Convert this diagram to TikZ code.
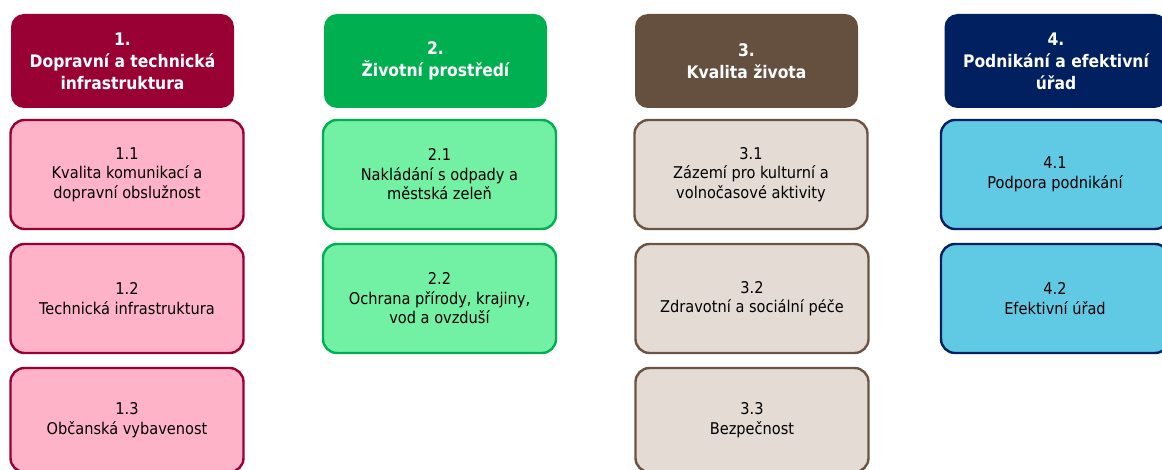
\documentclass[tikz,border=0pt]{standalone}
\usepackage{fontspec}
\setmainfont{DejaVu Sans Condensed}

\definecolor{wine}{HTML}{990033}
\definecolor{winelight}{HTML}{FFB3C9}
\definecolor{leaf}{HTML}{00B050}
\definecolor{leaflight}{HTML}{72F0A4}
\definecolor{bark}{HTML}{654F3F}
\definecolor{barkline}{HTML}{6B5444}
\definecolor{barklight}{HTML}{E3DBD4}
\definecolor{navy}{HTML}{002060}
\definecolor{navylight}{HTML}{60C9E3}

\tikzset{
    head/.style={shape=rectangle,rounded corners=13pt,minimum width=223pt,minimum height=94pt,
        text=white,align=center,font=\fontsize{17.3}{22}\selectfont\bfseries},
    sub/.style={shape=rectangle,rounded corners=14pt,line width=2.4pt,minimum width=233pt,
        minimum height=109pt,text=black,align=center,font=\fontsize{16.2}{19.5}\selectfont},
    lastsub/.style={sub,minimum height=104pt}
}

\begin{document}
\begin{tikzpicture}[x=1pt,y=-1pt]
                \useasboundingbox (0,0) rectangle (1162,470);

                \node[head,fill=wine] (1) at (122.5,61) {1.\\Dopravní a technická\\infrastruktura};
                \node[head,fill=leaf] (2) at (435.5,61) {2.\\Životní prostředí};
                \node[head,fill=bark] (3) at (746.5,61) {3.\\Kvalita života};
                \node[head,fill=navy] (4) at (1056,61) {4.\\Podnikání a efektivní\\úřad};

                \node[sub,draw=wine,fill=winelight] (11) at (127,174.5) {1.1\\Kvalita komunikací a\\dopravní obslužnost};
                \node[sub,draw=wine,fill=winelight] (12) at (127,298.5) {1.2\\Technická infrastruktura};
                \node[lastsub,draw=wine,fill=winelight] (13) at (127,420) {1.3\\Občanská vybavenost};

                \node[sub,draw=leaf,fill=leaflight] (21) at (439.5,174.5) {2.1\\Nakládání s odpady a\\městská zeleň};
                \node[sub,draw=leaf,fill=leaflight] (22) at (439.5,298.5) {2.2\\Ochrana přírody, krajiny,\\vod a ovzduší};

                \node[sub,draw=barkline,fill=barklight] (31) at (751,174.5) {3.1\\Zázemí pro kulturní a\\volnočasové aktivity};
                \node[sub,draw=barkline,fill=barklight] (32) at (752,298.5) {3.2\\Zdravotní a sociální péče};
                \node[lastsub,draw=barkline,fill=barklight] (33) at (752,420) {3.3\\Bezpečnost};

                \node[sub,draw=navy,fill=navylight,minimum width=228pt] (41) at (1055,174.5) {4.1\\Podpora podnikání};
                \node[sub,draw=navy,fill=navylight,minimum width=228pt] (42) at (1055,298.5) {4.2\\Efektivní úřad};
            \end{tikzpicture}
\end{document}
